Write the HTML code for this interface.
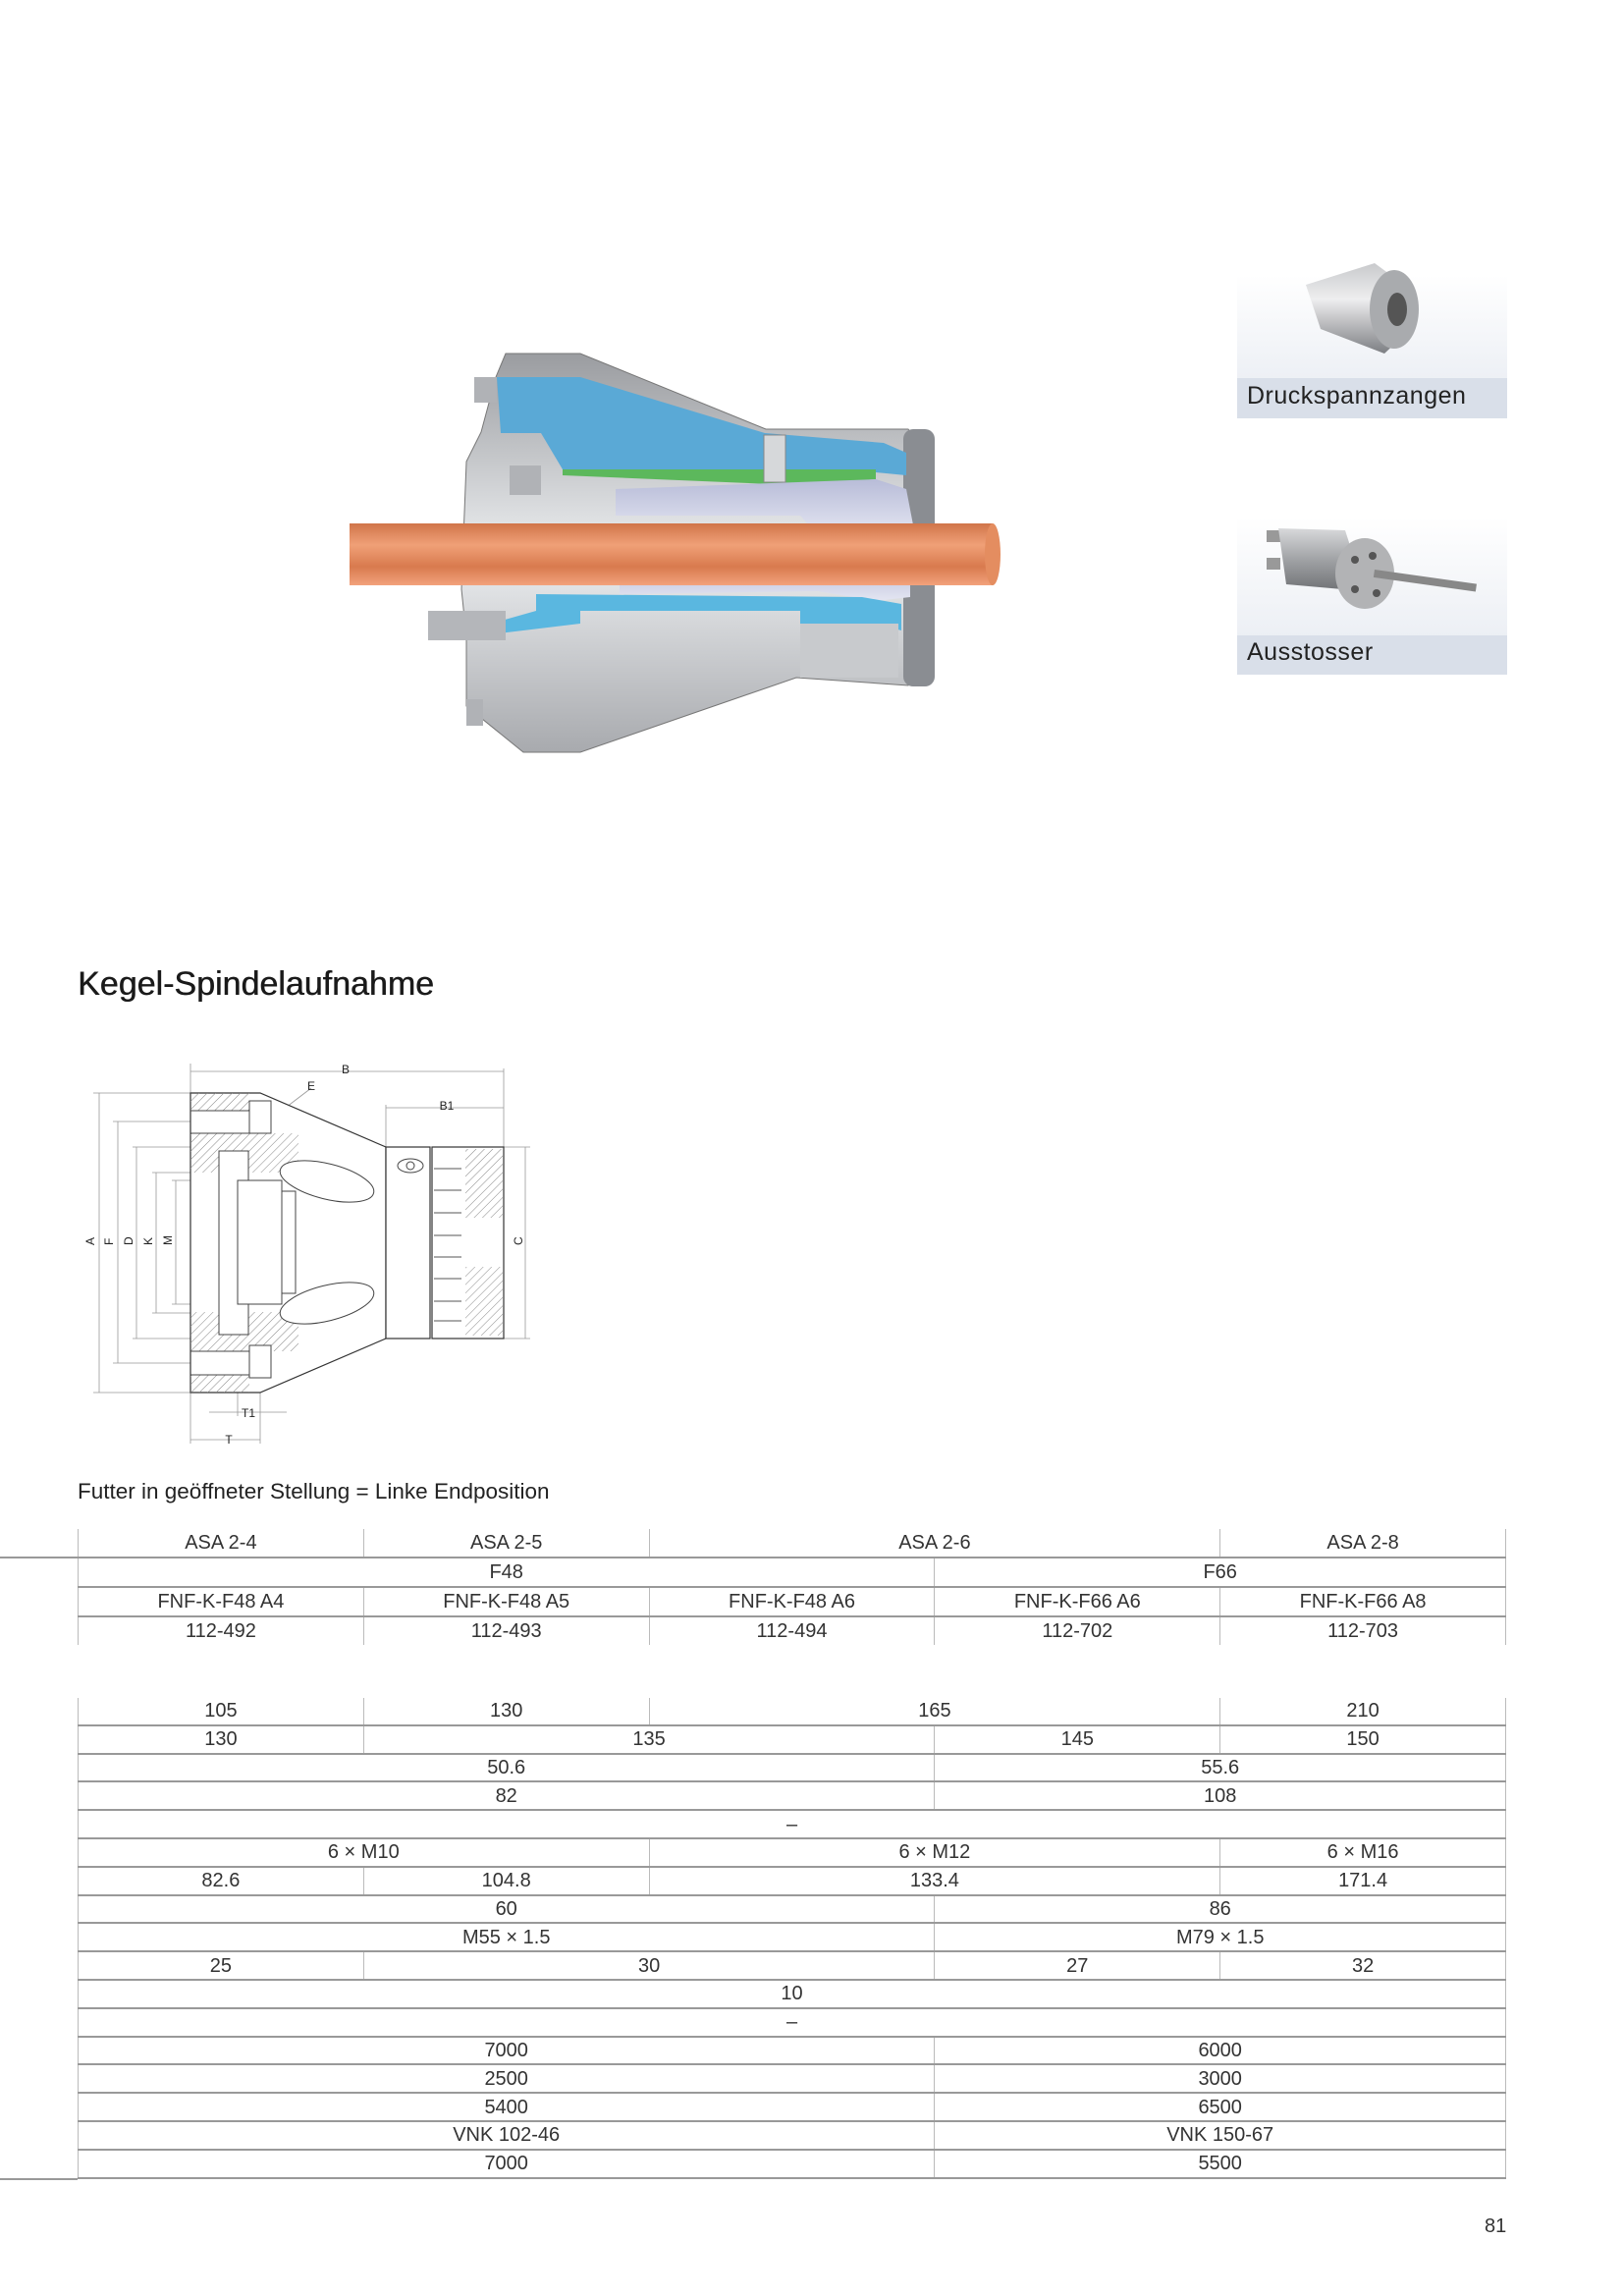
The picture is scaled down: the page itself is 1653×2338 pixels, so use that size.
<!DOCTYPE html>
<html><head><meta charset="utf-8">
<style>
html,body{margin:0;padding:0;background:#fff;}
body{width:1653px;height:2338px;position:relative;overflow:hidden;font-family:"Liberation Sans",sans-serif;color:#222;}
.abs{position:absolute;}
table{border-collapse:collapse;table-layout:fixed;position:absolute;left:79px;width:1463px;font-size:20px;color:#333;}
td{text-align:center;padding:0;border-left:1px solid #bbb;border-right:1px solid #bbb;line-height:20px;white-space:nowrap;}
#t1 td{height:28px;border-bottom:2px solid #999;}
#t1 tr:last-child td{border-bottom:none;}
#t2 td{height:26.8px;border-bottom:2px solid #999;}
</style></head><body>

<svg class="abs" style="left:0;top:0" width="1100" height="800" viewBox="0 0 1100 800">
<defs>
<linearGradient id="gr" x1="0" y1="0" x2="0" y2="1"><stop offset="0" stop-color="#9a9ca0"/><stop offset=".5" stop-color="#eceef0"/><stop offset="1" stop-color="#a8aaae"/></linearGradient>
<linearGradient id="cu" x1="0" y1="0" x2="0" y2="1"><stop offset="0" stop-color="#d0754a"/><stop offset=".35" stop-color="#f0a077"/><stop offset=".7" stop-color="#d87a4e"/><stop offset="1" stop-color="#f2a27c"/></linearGradient>
<linearGradient id="lv" x1="0" y1="0" x2="0" y2="1"><stop offset="0" stop-color="#b8bcd8"/><stop offset="1" stop-color="#e4e6f2"/></linearGradient>
</defs>
<polygon points="515,360 591,360 780,437 925,437 948,470 952,560 948,680 925,698 811,690 591,766 533,766 475,719 475,649 470,600 475,470 490,440 505,384" fill="url(#gr)" stroke="#777" stroke-width="1"/>
<rect x="920" y="437" width="32" height="262" rx="10" fill="#8a8d92"/>
<polygon points="506,384 591,384 779,441 900,451 923,461 923,484 892,481 573,478 551,441 510,441" fill="#5aa9d6"/>
<polygon points="573,478 892,478 892,488 811,494 573,484" fill="#5cb85c"/>
<polygon points="627,498 892,488 923,498 932,545 833,545 815,525 627,525" fill="url(#lv)"/>
<polygon points="631,578 927,575 927,608 892,612 833,602 631,605" fill="url(#lv)"/>
<polygon points="546,605 878,608 918,615 918,642 892,635 815,635 815,622 591,622 591,635 475,649 475,642 546,622" fill="#5ab7e0"/>
<rect x="815" y="635" width="100" height="55" fill="#c8cacd"/>
<rect x="356" y="533" width="655" height="63" fill="url(#cu)"/>
<ellipse cx="1011" cy="564.5" rx="8" ry="31.5" fill="#e48d60"/>
<rect x="483" y="384" width="23" height="26" fill="#b0b2b6"/>
<rect x="519" y="474" width="32" height="30" fill="#b0b2b6"/>
<rect x="436" y="622" width="79" height="30" fill="#b4b6ba"/>
<rect x="475" y="712" width="17" height="27" fill="#b0b2b6"/>
<rect x="778" y="443" width="22" height="48" fill="#d6d8da" stroke="#888"/>
</svg>

<div class="abs" style="left:1260px;top:280px;width:275px;height:146px;background:linear-gradient(#fff,#e6eaf1)"></div>
<div class="abs" style="left:1260px;top:385px;width:275px;height:41px;background:#d9dfe9"></div>
<div class="abs" style="left:1270px;top:389px;font-size:25px;color:#222;letter-spacing:.5px">Druckspannzangen</div>
<svg class="abs" style="left:1320px;top:260px" width="160" height="110"><defs><linearGradient id="s1" x1="0" y1="0" x2="0" y2="1"><stop offset="0" stop-color="#c8c9cc"/><stop offset=".4" stop-color="#eeeeef"/><stop offset="1" stop-color="#7d7f83"/></linearGradient></defs>
<polygon points="10,30 80,8 110,30 120,72 90,100 25,75" fill="url(#s1)"/><ellipse cx="100" cy="55" rx="25" ry="40" fill="#a9abae"/><ellipse cx="103" cy="55" rx="10" ry="17" fill="#555"/></svg>

<div class="abs" style="left:1260px;top:527px;width:275px;height:160px;background:linear-gradient(#fff,#e6eaf1)"></div>
<div class="abs" style="left:1260px;top:647px;width:275px;height:40px;background:#d9dfe9"></div>
<div class="abs" style="left:1270px;top:650px;font-size:25px;color:#222;letter-spacing:.5px">Ausstosser</div>
<svg class="abs" style="left:1290px;top:520px" width="230" height="120"><defs><linearGradient id="s2" x1="0" y1="0" x2="0" y2="1"><stop offset="0" stop-color="#d8d9db"/><stop offset=".5" stop-color="#a0a2a5"/><stop offset="1" stop-color="#707275"/></linearGradient></defs>
<rect x="0" y="20" width="14" height="12" fill="#999"/><rect x="0" y="48" width="14" height="12" fill="#999"/>
<polygon points="12,18 80,20 100,82 20,75" fill="url(#s2)"/>
<ellipse cx="100" cy="64" rx="30" ry="36" fill="#b2b3b5"/>
<rect x="110" y="60" width="105" height="8" fill="#888" transform="rotate(8 110 60)"/>
<circle cx="90" cy="50" r="4" fill="#555"/><circle cx="108" cy="46" r="4" fill="#555"/><circle cx="90" cy="80" r="4" fill="#555"/><circle cx="112" cy="84" r="4" fill="#555"/></svg>

<div class="abs" style="left:79px;top:983px;font-size:34px;color:#1a1a1a;text-shadow:0.5px 0 0 #1a1a1a">Kegel-Spindelaufnahme</div>

<svg class="abs" style="left:0;top:0" width="600" height="1500" viewBox="0 0 600 1500" font-family="Liberation Sans, sans-serif" font-size="12" fill="none" stroke="#444" stroke-width="1">
<defs><pattern id="h" width="6" height="6" patternUnits="userSpaceOnUse" patternTransform="rotate(45)"><line x1="0" y1="0" x2="0" y2="6" stroke="#888" stroke-width="1"/></pattern></defs>
<g stroke="#999" stroke-width=".8">
<line x1="194" y1="1091" x2="513" y2="1091"/><line x1="393" y1="1128" x2="513" y2="1128"/>
<line x1="194" y1="1083" x2="194" y2="1470"/><line x1="513" y1="1088" x2="513" y2="1170"/><line x1="393" y1="1125" x2="393" y2="1168"/>
<line x1="101" y1="1113" x2="101" y2="1418"/><line x1="95" y1="1113" x2="194" y2="1113"/><line x1="95" y1="1418" x2="194" y2="1418"/>
<line x1="120" y1="1142" x2="120" y2="1388"/><line x1="115" y1="1142" x2="215" y2="1142"/><line x1="115" y1="1388" x2="215" y2="1388"/>
<line x1="139" y1="1168" x2="139" y2="1363"/><line x1="135" y1="1168" x2="194" y2="1168"/><line x1="135" y1="1363" x2="194" y2="1363"/>
<line x1="159" y1="1194" x2="159" y2="1337"/><line x1="155" y1="1194" x2="240" y2="1194"/><line x1="155" y1="1337" x2="240" y2="1337"/>
<line x1="179" y1="1202" x2="179" y2="1328"/><line x1="175" y1="1202" x2="240" y2="1202"/><line x1="175" y1="1328" x2="240" y2="1328"/>
<line x1="535" y1="1168" x2="535" y2="1363"/><line x1="513" y1="1168" x2="540" y2="1168"/><line x1="513" y1="1363" x2="540" y2="1363"/>
<line x1="194" y1="1466" x2="265" y2="1466"/><line x1="265" y1="1418" x2="265" y2="1470"/>
<line x1="213" y1="1438" x2="292" y2="1438"/><line x1="242" y1="1330" x2="242" y2="1442"/>
<line x1="317" y1="1108" x2="271" y2="1143"/>
</g>
<polygon points="194,1113 265,1113 393,1168 393,1363 265,1418 194,1418" fill="#fff" stroke="#333" stroke-width="1.2"/>
<rect x="194" y="1113" width="60" height="18" fill="url(#h)" stroke="none"/>
<rect x="194" y="1154" width="110" height="40" fill="url(#h)" stroke="none"/>
<rect x="194" y="1336" width="110" height="40" fill="url(#h)" stroke="none"/>
<rect x="194" y="1400" width="60" height="18" fill="url(#h)" stroke="none"/>
<line x1="194" y1="1131" x2="254" y2="1131"/><line x1="194" y1="1154" x2="254" y2="1154"/>
<line x1="194" y1="1376" x2="254" y2="1376"/><line x1="194" y1="1400" x2="254" y2="1400"/>
<rect x="254" y="1121" width="22" height="33" fill="#fff"/><rect x="254" y="1370" width="22" height="33" fill="#fff"/>
<rect x="223" y="1172" width="30" height="187" fill="#fff"/>
<rect x="242" y="1202" width="45" height="126" fill="#fff"/>
<rect x="287" y="1213" width="14" height="104" fill="#fff"/>
<ellipse cx="333" cy="1203" rx="49" ry="18" transform="rotate(14 333 1203)" fill="#fff"/>
<ellipse cx="333" cy="1327" rx="49" ry="18" transform="rotate(-14 333 1327)" fill="#fff"/>
<rect x="393" y="1168" width="45" height="195" fill="#fff" stroke="#333" stroke-width="1.2"/>
<ellipse cx="418" cy="1187" rx="13" ry="7" fill="#fff"/><circle cx="418" cy="1187" r="4"/>
<rect x="440" y="1168" width="73" height="195" fill="#fff" stroke="#333" stroke-width="1.2"/>
<rect x="474" y="1170" width="38" height="70" fill="url(#h)" stroke="none"/>
<rect x="474" y="1290" width="38" height="70" fill="url(#h)" stroke="none"/>
<g stroke="#555"><line x1="442" y1="1190" x2="470" y2="1190"/><line x1="442" y1="1212" x2="470" y2="1212"/><line x1="442" y1="1235" x2="470" y2="1235"/><line x1="442" y1="1258" x2="470" y2="1258"/><line x1="442" y1="1280" x2="470" y2="1280"/><line x1="442" y1="1302" x2="470" y2="1302"/><line x1="442" y1="1325" x2="470" y2="1325"/><line x1="442" y1="1345" x2="470" y2="1345"/></g>
<g fill="#222" stroke="none" font-size="12">
<text x="352" y="1093" text-anchor="middle">B</text>
<text x="455" y="1130" text-anchor="middle">B1</text>
<text x="317" y="1110" text-anchor="middle">E</text>
<text x="253" y="1443" text-anchor="middle">T1</text>
<text x="233" y="1470" text-anchor="middle">T</text>
<text transform="translate(96,1268) rotate(-90)">A</text>
<text transform="translate(115,1268) rotate(-90)">F</text>
<text transform="translate(135,1268) rotate(-90)">D</text>
<text transform="translate(155,1268) rotate(-90)">K</text>
<text transform="translate(175,1268) rotate(-90)">M</text>
<text transform="translate(532,1268) rotate(-90)">C</text>
</g>
</svg>

<div class="abs" style="left:79px;top:1506px;font-size:22.5px;color:#222">Futter in geöffneter Stellung = Linke Endposition</div>

<div class="abs" style="left:0;top:1585px;width:79px;height:2px;background:#999"></div>
<div class="abs" style="left:0;top:2218px;width:79px;height:2px;background:#999"></div>

<table id="t1" style="top:1557px;width:1455px">
<colgroup><col><col><col><col><col></colgroup>
<tr><td>ASA 2-4</td><td>ASA 2-5</td><td colspan="2">ASA 2-6</td><td>ASA 2-8</td></tr>
<tr><td colspan="3">F48</td><td colspan="2">F66</td></tr>
<tr><td>FNF-K-F48 A4</td><td>FNF-K-F48 A5</td><td>FNF-K-F48 A6</td><td>FNF-K-F66 A6</td><td>FNF-K-F66 A8</td></tr>
<tr><td>112-492</td><td>112-493</td><td>112-494</td><td>112-702</td><td>112-703</td></tr>
</table>

<table id="t2" style="top:1729px;width:1455px">
<colgroup><col><col><col><col><col></colgroup>
<tr><td>105</td><td>130</td><td colspan="2">165</td><td>210</td></tr>
<tr><td>130</td><td colspan="2">135</td><td>145</td><td>150</td></tr>
<tr><td colspan="3">50.6</td><td colspan="2">55.6</td></tr>
<tr><td colspan="3">82</td><td colspan="2">108</td></tr>
<tr><td colspan="5">–</td></tr>
<tr><td colspan="2">6 × M10</td><td colspan="2">6 × M12</td><td>6 × M16</td></tr>
<tr><td>82.6</td><td>104.8</td><td colspan="2">133.4</td><td>171.4</td></tr>
<tr><td colspan="3">60</td><td colspan="2">86</td></tr>
<tr><td colspan="3">M55 × 1.5</td><td colspan="2">M79 × 1.5</td></tr>
<tr><td>25</td><td colspan="2">30</td><td>27</td><td>32</td></tr>
<tr><td colspan="5">10</td></tr>
<tr><td colspan="5">–</td></tr>
<tr><td colspan="3">7000</td><td colspan="2">6000</td></tr>
<tr><td colspan="3">2500</td><td colspan="2">3000</td></tr>
<tr><td colspan="3">5400</td><td colspan="2">6500</td></tr>
<tr><td colspan="3">VNK 102-46</td><td colspan="2">VNK 150-67</td></tr>
<tr><td colspan="3">7000</td><td colspan="2">5500</td></tr>
</table>

<div class="abs" style="left:1512px;top:2256px;font-size:20px;color:#333">81</div>
</body></html>
